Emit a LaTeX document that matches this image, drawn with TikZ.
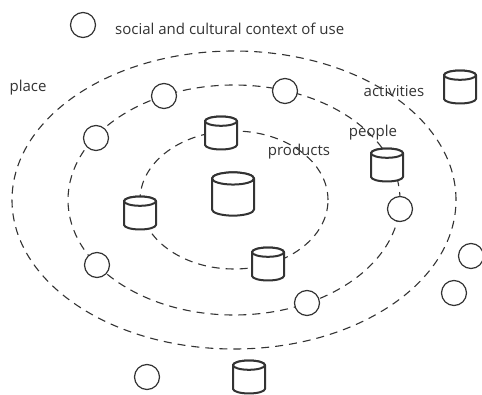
\documentclass[tikz,border=0pt]{standalone}
\usepackage{fontspec}
\setmainfont{Open Sans}
\usepackage{tikz}
\definecolor{inkgray}{HTML}{333333}

\begin{document}
\begin{tikzpicture}[
  x=1pt, y=1pt,
  ring/.style={draw=inkgray, line width=1.1pt, dash pattern=on 8pt off 6pt},
  ctx/.style={circle, draw=inkgray, fill=white, line width=1.2pt, minimum size=25pt, inner sep=0pt},
  canline/.style={draw=inkgray, fill=white, line width=2pt, line join=round},
  pics/can/.style={code={
    \node[inner sep=0pt, minimum width=2*#1, minimum height=2*#1] (-box) {};
    \draw[canline] (-#1,0.74*#1) -- (-#1,-0.74*#1)
      arc[start angle=180, end angle=360, x radius=#1, y radius=0.29*#1]
      -- (#1,0.74*#1) arc[start angle=0, end angle=180, x radius=#1, y radius=0.29*#1] -- cycle;
    \draw[canline] (0,0.74*#1) ellipse [x radius=#1, y radius=0.29*#1];
  }},
  lbl/.style={font=\fontsize{15}{17}\selectfont, text=inkgray, inner sep=0pt}
]
\useasboundingbox (0,0) rectangle (482,394);
% rings round the product
\coordinate (mid) at (234,194);
\draw[ring] (mid) ellipse [x radius=222, y radius=149];
\draw[ring] (mid) ellipse [x radius=166, y radius=115];
\draw[ring] (mid) ellipse [x radius=94, y radius=69];
% legend
\node[ctx] (keyctx) at (83,369) {};
\node[lbl, anchor=west] (keytext) at (115,365) {social and cultural context of use};
\pic (keyact) at (460,307) {can=16};
% ring labels
\node[lbl] (place) at (28,306) {place};
\node[lbl] (activities) at (394,303) {activities};
\node[lbl] (people) at (373,261) {people};
\node[lbl] (products) at (299,242) {products};
% context circles
\node[ctx] (c1) at (164,298) {};
\node[ctx] (c2) at (285,303) {};
\node[ctx] (c3) at (96,256) {};
\node[ctx] (c4) at (400,185) {};
\node[ctx] (c5) at (97,129) {};
\node[ctx] (c6) at (307,91) {};
\node[ctx] (c7) at (471,138) {};
\node[ctx] (c8) at (454,101) {};
\node[ctx] (c9) at (147,17) {};
% activity cans
\pic (product) at (233,200) {can=21};
\pic (a1) at (221,261) {can=16};
\pic (a2) at (387,229) {can=16};
\pic (a3) at (140,181) {can=16};
\pic (a4) at (268,130) {can=16};
\pic (a5) at (249,17) {can=16};
\end{tikzpicture}
\end{document}
